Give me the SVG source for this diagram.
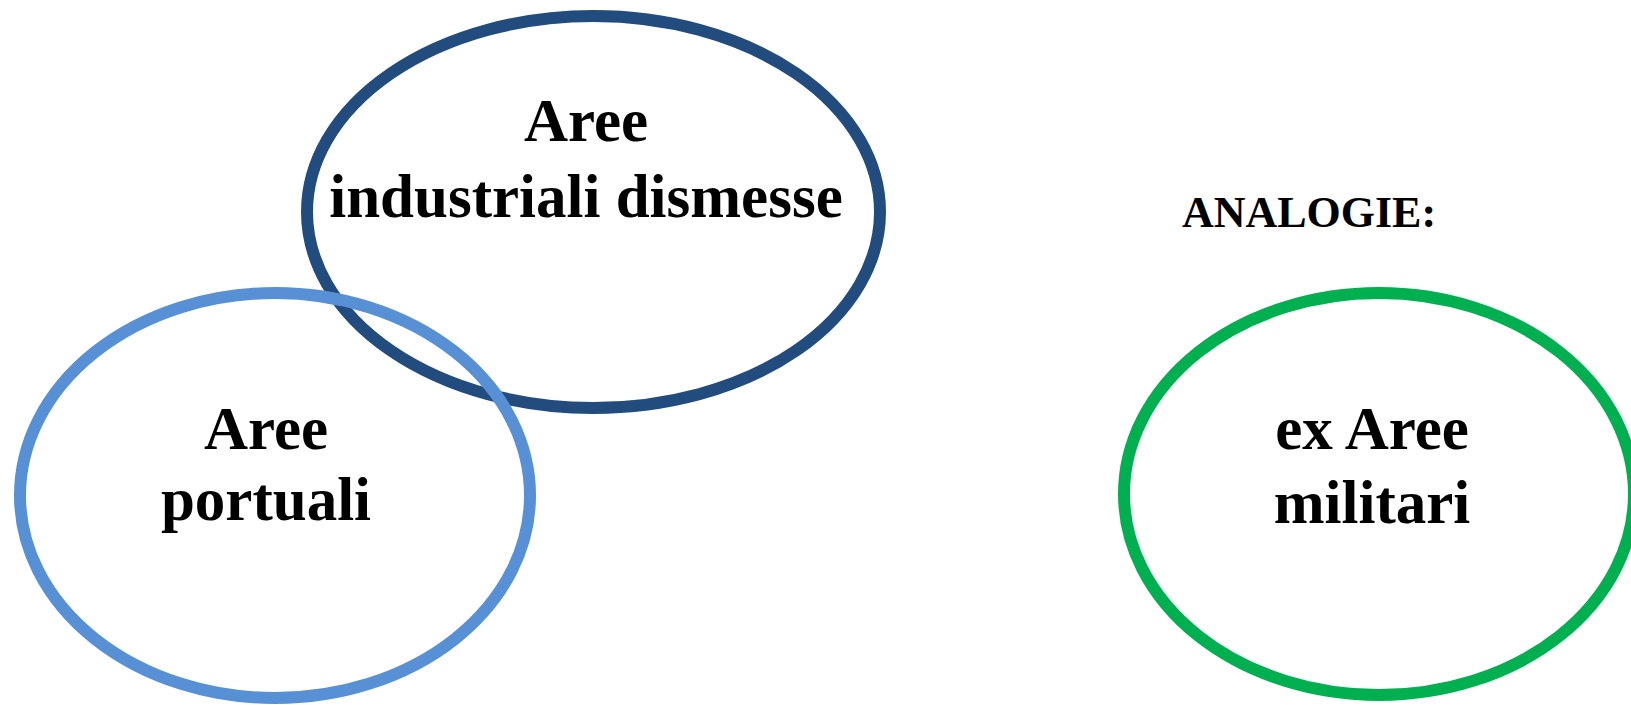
<svg xmlns="http://www.w3.org/2000/svg" width="1631" height="705" viewBox="0 0 1631 705">
<style>
.ring{fill:none;stroke-width:12}
.lbl{font-family:"Liberation Serif","Times New Roman",serif;font-weight:bold;font-size:61px;fill:#000;text-anchor:middle}
.hdr{font-size:44px}
</style>
<rect width="1631" height="705" fill="#fff"/>
<g id="node-industriali">
<ellipse class="ring" cx="593.5" cy="212" rx="286.5" ry="196" stroke="#224B7E"/>
<text class="lbl" x="586" y="141">Aree</text>
<text class="lbl" x="586" y="217">industriali dismesse</text>
</g>
<g id="node-portuali">
<ellipse class="ring" cx="275" cy="495.5" rx="255" ry="202.5" stroke="#5890D6"/>
<text class="lbl" x="266" y="449">Aree</text>
<text class="lbl" x="266" y="520">portuali</text>
</g>
<g id="node-analogie">
<text class="lbl hdr" x="1309" y="227">ANALOGIE:</text>
</g>
<g id="node-militari">
<ellipse class="ring" cx="1379" cy="494" rx="255" ry="201" stroke="#00B050"/>
<text class="lbl" x="1372" y="449">ex Aree</text>
<text class="lbl" x="1372" y="523">militari</text>
</g>
<g id="connectors"></g>
</svg>
